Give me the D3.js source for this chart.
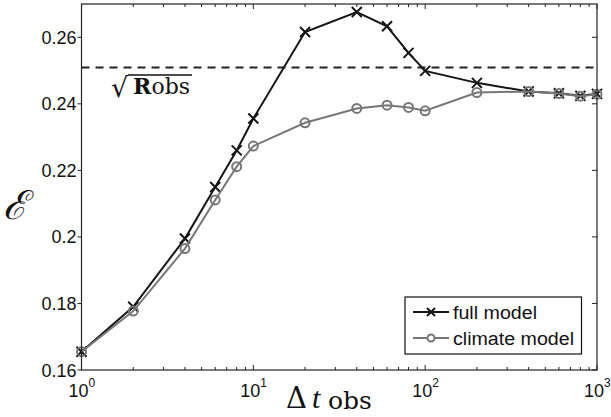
<!DOCTYPE html>
<html>
<head>
<meta charset="utf-8">
<script src="https://cdn.jsdelivr.net/npm/d3@7"></script>
<style>
  html, body { margin: 0; padding: 0; background: #fff; }
  svg { display: block; }
  .tick-label { font-family: "Liberation Sans", Arial, sans-serif; font-size: 18px; fill: #111; }
  .legend-label { font-family: "Liberation Sans", Arial, sans-serif; font-size: 18px; fill: #111; }
  .serif { font-family: "Liberation Serif", "DejaVu Serif", serif; fill: #111; }
</style>
</head>
<body>
<svg id="chart" width="611" height="417"></svg>
<script>
// Observation interval (time steps) on a log axis
const intervals = [1, 2, 4, 6, 8, 10, 20, 40, 60, 80, 100, 200, 400, 600, 800, 1000];
// Error for each model
const fullModel = [0.1655, 0.179, 0.1995, 0.215, 0.226, 0.2356, 0.2616, 0.2676, 0.2633, 0.2553, 0.2499, 0.2463, 0.2437, 0.2432, 0.2424, 0.2430];
const climateModel = [0.1655, 0.1777, 0.1965, 0.2111, 0.2211, 0.2273, 0.2343, 0.2386, 0.2396, 0.2389, 0.2379, 0.2434, 0.2437, 0.2431, 0.2423, 0.2429];
// Observation error level
const sqrtRobs = 0.2509;
const yTicks = [0.16, 0.18, 0.2, 0.22, 0.24, 0.26];
const yTickLabels = ["0.16", "0.18", "0.2", "0.22", "0.24", "0.26"];
const xDecades = [1, 10, 100, 1000];
const xDecadeExponents = ["0", "1", "2", "3"];
const seriesNames = ["full model", "climate model"];

const svg = d3.select("#chart");
const plotL = 81.5, plotR = 597, plotT = 4, plotB = 370;

const x = d3.scaleLog().domain([1, 1000]).range([plotL, plotR]);
const y = d3.scaleLinear().domain([0.16, 0.27]).range([plotB, plotT]);

const axisColor = "#222";
const wideSerif = "'DejaVu Serif', serif";

// Minor tick positions (2..9 in each decade)
const minor = [];
[1, 10, 100].forEach(d => { for (let k = 2; k <= 9; k++) minor.push(d * k); });

// Bottom and top ticks (pointing inward)
const ticksG = svg.append("g").attr("stroke", axisColor).attr("stroke-width", 1);
minor.forEach(v => {
  ticksG.append("line").attr("x1", x(v)).attr("x2", x(v)).attr("y1", plotB).attr("y2", plotB - 3);
  ticksG.append("line").attr("x1", x(v)).attr("x2", x(v)).attr("y1", plotT).attr("y2", plotT + 3);
});
xDecades.forEach(v => {
  ticksG.append("line").attr("x1", x(v)).attr("x2", x(v)).attr("y1", plotB).attr("y2", plotB - 5);
  ticksG.append("line").attr("x1", x(v)).attr("x2", x(v)).attr("y1", plotT).attr("y2", plotT + 5);
});
yTicks.forEach(v => {
  ticksG.append("line").attr("x1", plotL - 4).attr("x2", plotL).attr("y1", y(v)).attr("y2", y(v));
  ticksG.append("line").attr("x1", plotR).attr("x2", plotR - 5).attr("y1", y(v)).attr("y2", y(v));
});

// Y tick labels
svg.append("g").selectAll("text").data(yTicks).join("text")
  .attr("class", "tick-label")
  .attr("x", plotL - 5)
  .attr("y", d => y(d) + 6.5)
  .attr("text-anchor", "end")
  .text((d, i) => yTickLabels[i]);

// X tick labels: 10 with superscript exponent
const xl = svg.append("g");
xDecades.forEach((v, i) => {
  const t = xl.append("text").attr("class", "tick-label")
    .attr("x", x(v) - 13).attr("y", 397).attr("font-size", 17);
  t.append("tspan").text("10");
  t.append("tspan").attr("dy", -10).attr("font-size", 12).text(xDecadeExponents[i]);
});

// Observation error reference line
svg.append("line")
  .attr("x1", plotL).attr("x2", plotR)
  .attr("y1", y(sqrtRobs)).attr("y2", y(sqrtRobs))
  .attr("stroke", "#222").attr("stroke-width", 2)
  .attr("stroke-dasharray", "8,6");

// Reference line label: sqrt(R obs)
const rl = svg.append("g");
rl.append("text").attr("font-family", wideSerif).attr("fill", "#111")
  .attr("x", 111).attr("y", 97).attr("font-size", 27).text("√");
const rt = rl.append("text").attr("font-family", wideSerif).attr("fill", "#111").attr("y", 94).attr("font-size", 22);
rt.append("tspan").attr("x", 133).attr("font-weight", "bold").text("R");
rt.append("tspan").attr("x", 151.5).text("obs");
rl.append("line").attr("x1", 128).attr("x2", 192).attr("y1", 75).attr("y2", 75)
  .attr("stroke", "#111").attr("stroke-width", 1.4);

// Series lines
const line = d3.line().x(d => x(d[0])).y(d => y(d[1]));
const fullPts = intervals.map((t, i) => [t, fullModel[i]]);
const climPts = intervals.map((t, i) => [t, climateModel[i]]);

const fullColor = "#151515", climColor = "#777";

svg.append("path").datum(fullPts).attr("d", line)
  .attr("fill", "none").attr("stroke", fullColor).attr("stroke-width", 2);
svg.append("g").selectAll("path").data(fullPts).join("path")
  .attr("d", d => { const cx = x(d[0]), cy = y(d[1]), s = 5; return `M${cx - s},${cy - s}L${cx + s},${cy + s}M${cx - s},${cy + s}L${cx + s},${cy - s}`; })
  .attr("stroke", fullColor).attr("stroke-width", 2).attr("fill", "none");

svg.append("path").datum(climPts).attr("d", line)
  .attr("fill", "none").attr("stroke", climColor).attr("stroke-width", 2);
svg.append("g").selectAll("circle").data(climPts).join("circle")
  .attr("cx", d => x(d[0])).attr("cy", d => y(d[1])).attr("r", 4.5)
  .attr("fill", "none").attr("stroke", climColor).attr("stroke-width", 2);

// Axes frame
svg.append("rect").attr("x", plotL).attr("y", plotT).attr("width", plotR - plotL).attr("height", plotB - plotT)
  .attr("fill", "none").attr("stroke", axisColor).attr("stroke-width", 1.2);

// Axis titles
const xt = svg.append("text").attr("fill", "#111").attr("y", 407.5);
xt.append("tspan").attr("font-family", wideSerif).attr("font-size", 29).attr("x", 286).text("Δ");
xt.append("tspan").attr("font-family", "'Liberation Serif', serif").attr("x", 312)
  .attr("font-style", "italic").attr("font-size", 30).text("t");
xt.append("tspan").attr("font-family", wideSerif).attr("x", 328).attr("dy", 1.5).attr("font-size", 25).text("obs");

svg.append("text").attr("class", "serif").attr("x", 3).attr("y", 219)
  .attr("font-size", 40).attr("font-style", "italic").text("ℰ");

// Legend
const lg = svg.append("g");
lg.append("rect").attr("x", 405).attr("y", 297).attr("width", 176.5).attr("height", 57)
  .attr("fill", "#fff").attr("stroke", "#111").attr("stroke-width", 1.2);
const legendRows = [
  { name: seriesNames[0], color: fullColor, marker: "x", y: 312, w: 84 },
  { name: seriesNames[1], color: climColor, marker: "o", y: 338, w: 121 }
];
legendRows.forEach(r => {
  lg.append("line").attr("x1", 413).attr("x2", 449).attr("y1", r.y).attr("y2", r.y)
    .attr("stroke", r.color).attr("stroke-width", 2);
  if (r.marker === "x") {
    const s = 4;
    lg.append("path").attr("d", `M${431 - s},${r.y - s}L${431 + s},${r.y + s}M${431 - s},${r.y + s}L${431 + s},${r.y - s}`)
      .attr("stroke", r.color).attr("stroke-width", 2);
  } else {
    lg.append("circle").attr("cx", 431).attr("cy", r.y).attr("r", 3.5)
      .attr("fill", "#fff").attr("stroke", r.color).attr("stroke-width", 2);
  }
  lg.append("text").attr("class", "legend-label").attr("x", 453).attr("y", r.y + 6.5)
    .attr("textLength", r.w).attr("lengthAdjust", "spacingAndGlyphs").text(r.name);
});
</script>
</body>
</html>
